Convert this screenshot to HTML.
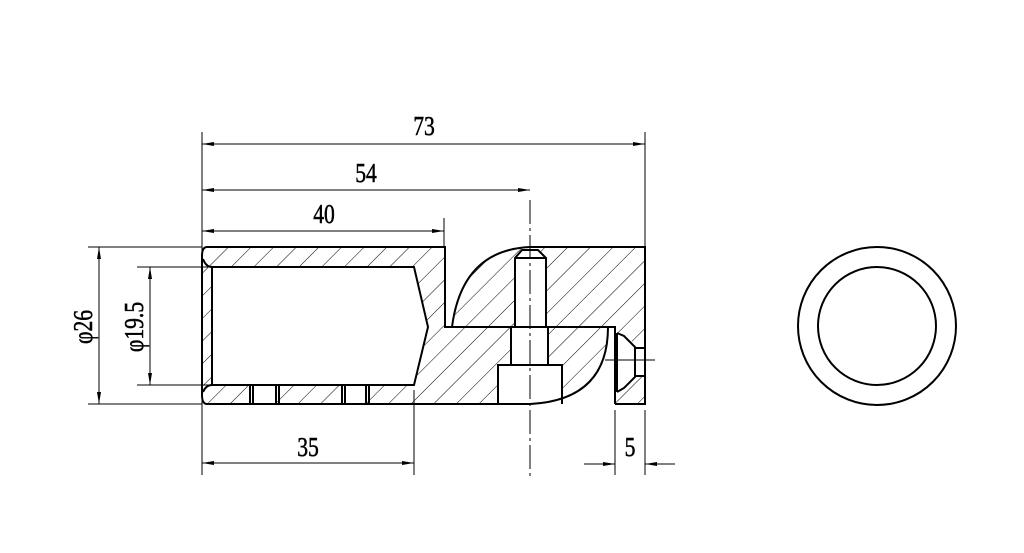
<!DOCTYPE html>
<html><head><style>html,body{margin:0;padding:0;background:#fff}svg{display:block}</style></head><body>
<svg width="1024" height="553" viewBox="0 0 1024 553" xmlns="http://www.w3.org/2000/svg">
<defs>
<pattern id="h" patternUnits="userSpaceOnUse" width="16" height="16" patternTransform="rotate(45)">
<line x1="0" y1="0" x2="0" y2="16" stroke="#000" stroke-width="1"/>
</pattern>
<marker id="a" viewBox="0 0 12 6" refX="12" refY="3" markerWidth="12" markerHeight="6" orient="auto-start-reverse" markerUnits="userSpaceOnUse"><path d="M0,1 L12,3 L0,5 Z" fill="#000"/></marker>
</defs>
<g fill="none" stroke="#000">
<path d="M207,247 H445 V327 H452 Q462,250 530,247 H645 V404 H615 V327 H608 Q608,400 530,404 H207 Q202,404 202,395 V256 Q202,247 207,247 Z" fill="url(#h)" stroke="none"/>
<g fill="#fff" stroke="none">
<polygon points="212,267 414,267 428,327 414,385 212,385"/>
<rect x="252" y="385" width="25" height="19"/>
<rect x="342" y="385" width="25" height="19"/>
<polygon points="515,258 522,250 530,247 538,250 546,258 546,327 548,327 548,365 562,365 562,404 498,404 498,365 511,365 511,327 515,327"/>
<polygon points="615,333 624,333 635,345 645,345 645,377 635,377 624,390 615,390"/>
</g>
<g stroke-width="2">
<path d="M207,247 H445 V327 H615 V404 M452,327 Q462,250 530,247 M530,247 H645 V404 H615 M608,327 Q608,400 530,404 H207 Q202,404 202,395 V256 Q202,247 207,247"/>
<path d="M212,267 H414 L428,327 L414,385 H212 Z"/>
<path d="M203,259 Q206,267 212,267 M203,392 Q206,385 212,385"/>
<path d="M250,385V404 M253,385V404 M276,385V404 M279,385V404 M342,385V404 M345,385V404 M366,385V404 M369,385V404"/>
<path d="M515,327 V258 L522,250 L538,250 L546,258 V327 M511,327 V365 M548,327 V365 M498,404 V365 H562 V404 M515,258 H546"/>
<path d="M617,333 V392 M617,333 L624,336 L635,347 V377 L624,388 L617,392 M635,348 H645 M635,376 H645"/>
</g>
<g stroke-width="1">
<path d="M530,200 V480" stroke-dasharray="24,4,3,4"/>
<path d="M605,360 H655"/>
<path d="M645,410 V475 M615,410 V475"/>
</g>
<circle cx="877" cy="326" r="79" stroke-width="2"/>
<circle cx="877" cy="326" r="59" stroke-width="2"/>
<g stroke-width="1">
<path d="M202,132 V475"/>
<path d="M645,132 V247"/>
<path d="M444,218 V247"/>
<line x1="202" y1="144" x2="645" y2="144" marker-start="url(#a)" marker-end="url(#a)"/>
<line x1="202" y1="190" x2="530" y2="190" marker-start="url(#a)" marker-end="url(#a)"/>
<line x1="202" y1="231" x2="444" y2="231" marker-start="url(#a)" marker-end="url(#a)"/>
<path d="M88,247 H202 M88,404 H202 M137,267 H212 M137,385 H212"/>
<line x1="99" y1="247" x2="99" y2="404" marker-start="url(#a)" marker-end="url(#a)"/>
<line x1="150" y1="267" x2="150" y2="385" marker-start="url(#a)" marker-end="url(#a)"/>
<path d="M414,390 V475"/>
<line x1="202" y1="463" x2="414" y2="463" marker-start="url(#a)" marker-end="url(#a)"/>
<line x1="584" y1="464" x2="615" y2="464" marker-end="url(#a)"/>
<line x1="675" y1="464" x2="645" y2="464" marker-end="url(#a)"/>
</g>
</g>
<g font-family="Liberation Serif, serif" font-size="27" fill="#000" stroke="#000" stroke-width="0.5" text-anchor="middle">
<text transform="translate(424,135) scale(0.8,1)">73</text>
<text transform="translate(366,182) scale(0.8,1)">54</text>
<text transform="translate(324,223) scale(0.8,1)">40</text>
<text transform="translate(308,456) scale(0.8,1)">35</text>
<text transform="translate(630,456) scale(0.8,1)">5</text>
<text transform="translate(92,327) rotate(-90) scale(0.8,1)">φ26</text>
<text transform="translate(143,327) rotate(-90) scale(0.8,1)">φ19.5</text>
</g>
</svg>
</body></html>
